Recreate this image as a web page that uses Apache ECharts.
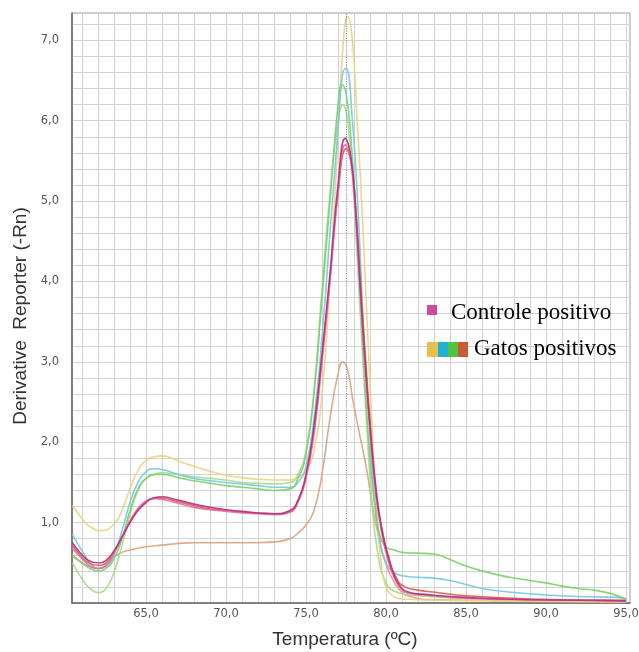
<!DOCTYPE html>
<html>
<head>
<meta charset="utf-8">
<script src="https://cdn.jsdelivr.net/npm/echarts@6/dist/echarts.min.js"></script>
<style>html,body{margin:0;padding:0;background:#fff}#c{width:639px;height:652px}</style>
</head>
<body>
<div id="c"></div>
<script>
// ---- data (temperature °C, derivative reporter -Rn) ----
const xTickLabels = [65, 70, 75, 80, 85, 90, 95];
const yTickLabels = [1, 2, 3, 4, 5, 6, 7];
const tmLine = 77.5;

const controle1 = [[60.4,0.75],[61,0.6],[61.5,0.52],[62,0.5],[62.5,0.53],[63,0.65],[63.5,0.82],[64,1.0],[64.5,1.15],[65,1.25],[65.5,1.31],[66,1.32],[67,1.28],[68,1.23],[69,1.19],[70,1.16],[71,1.14],[72,1.12],[73,1.11],[74,1.15],[74.5,1.28],[75,1.6],[75.5,2.2],[76,3.1],[76.5,4.1],[77,5.2],[77.45,5.78],[77.8,5.55],[78.1,4.9],[78.4,3.9],[78.7,3.0],[79,2.2],[79.4,1.35],[79.8,0.85],[80.1,0.6],[80.5,0.35],[81,0.18],[81.5,0.13],[82.3,0.11],[85,0.07],[89,0.04],[95,0.03]];
const controle2 = [[60.4,0.68],[61,0.55],[61.5,0.46],[62,0.43],[62.5,0.47],[63,0.62],[63.5,0.82],[64,1.02],[64.5,1.18],[65,1.27],[65.5,1.3],[66,1.29],[67,1.24],[68,1.19],[69,1.16],[70,1.14],[71,1.12],[72,1.11],[73,1.1],[74,1.13],[74.5,1.25],[75,1.55],[75.5,2.1],[76,3.0],[76.5,4.0],[77,5.1],[77.45,5.7],[77.8,5.5],[78.1,4.85],[78.4,3.85],[78.7,2.95],[79,2.15],[79.4,1.3],[79.8,0.8],[80.1,0.55],[80.5,0.32],[81,0.16],[81.5,0.12],[82.3,0.1],[85,0.06],[89,0.04],[95,0.03]];
const gatoYellow = [[60.4,1.21],[61,1.05],[61.5,0.95],[62.2,0.9],[63,0.98],[63.5,1.15],[64,1.42],[64.5,1.65],[65,1.77],[65.5,1.82],[66,1.83],[66.5,1.81],[67,1.77],[68,1.7],[69,1.64],[70,1.59],[71,1.56],[72,1.54],[73,1.53],[74,1.53],[74.5,1.56],[75,1.65],[75.5,1.9],[76,2.6],[76.5,4.0],[77,5.8],[77.3,6.9],[77.6,7.3],[77.9,7.0],[78.2,6.0],[78.5,4.9],[78.8,3.6],[79.1,2.3],[79.4,1.2],[79.7,0.5],[80,0.2],[80.5,0.08],[81,0.05],[85,0.03],[90,0.02],[95,0.01]];
const gatoCyan = [[60.4,0.85],[61,0.65],[61.5,0.5],[62,0.43],[62.5,0.45],[63,0.6],[63.5,0.9],[64,1.25],[64.5,1.5],[65,1.63],[65.5,1.67],[66,1.66],[67,1.6],[68,1.55],[69,1.52],[70,1.5],[71,1.48],[72,1.46],[73,1.44],[74,1.44],[74.5,1.5],[75,1.7],[75.5,2.3],[76,3.3],[76.5,4.6],[77,5.9],[77.3,6.6],[77.5,6.65],[77.9,6.0],[78.25,4.9],[78.6,3.4],[78.9,2.4],[79.2,1.5],[79.6,0.8],[80,0.5],[80.5,0.38],[81,0.34],[82,0.32],[83,0.31],[84,0.28],[85,0.23],[86,0.18],[88,0.13],[90,0.1],[92,0.08],[94.4,0.07],[95,0.05]];
const gatoGreen = [[60.4,0.6],[61,0.5],[61.5,0.43],[62,0.4],[62.5,0.43],[63,0.55],[63.5,0.8],[64,1.15],[64.5,1.42],[65,1.55],[65.5,1.6],[66,1.6],[67,1.56],[68,1.52],[69,1.49],[70,1.46],[71,1.44],[72,1.42],[73,1.4],[74,1.42],[74.5,1.55],[75,1.85],[75.5,2.6],[76,3.8],[76.5,5.0],[77,6.2],[77.25,6.45],[77.5,6.35],[77.8,5.8],[78.1,4.9],[78.4,3.8],[78.7,2.7],[79,1.8],[79.3,1.2],[79.6,0.85],[80,0.7],[80.5,0.66],[81,0.63],[82,0.62],[83,0.61],[84,0.54],[85,0.46],[86,0.4],[87,0.35],[88,0.31],[89,0.28],[90,0.25],[91,0.21],[92,0.18],[93,0.16],[94,0.12],[95,0.05]];
const gatoLightGreen = [[60.4,0.5],[61,0.3],[61.5,0.18],[62,0.13],[62.5,0.18],[63,0.38],[63.5,0.72],[64,1.1],[64.5,1.4],[65,1.55],[65.5,1.6],[66,1.62],[67,1.6],[68,1.57],[69,1.55],[70,1.53],[71,1.5],[72,1.49],[73,1.48],[74,1.5],[74.5,1.6],[75,1.9],[75.5,2.65],[76,3.9],[76.5,5.1],[77,6.0],[77.3,6.2],[77.6,6.0],[77.9,5.3],[78.2,4.3],[78.5,3.2],[78.8,2.2],[79.1,1.3],[79.5,0.6],[80,0.25],[80.5,0.15],[81.5,0.1],[85,0.06],[90,0.04],[95,0.03]];
const gatoTan = [[60.4,0.58],[61,0.5],[61.5,0.45],[62,0.43],[62.5,0.47],[63,0.57],[63.5,0.63],[64,0.66],[65,0.7],[66,0.72],[67,0.74],[68,0.75],[69,0.75],[70,0.75],[71,0.75],[72,0.75],[73,0.76],[74,0.8],[74.5,0.87],[75,0.97],[75.5,1.15],[76,1.6],[76.5,2.3],[77,2.85],[77.3,3.0],[77.6,2.9],[77.95,2.5],[78.4,2.05],[78.8,1.65],[79.2,1.15],[79.6,0.78],[80,0.48],[80.4,0.3],[80.9,0.15],[81.5,0.08],[83,0.04],[95,0.02]];
const gatoRed = [[60.4,0.72],[61,0.57],[61.5,0.49],[62,0.47],[62.5,0.5],[63,0.63],[63.5,0.82],[64,1.01],[64.5,1.16],[65,1.26],[65.5,1.3],[66,1.3],[67,1.26],[68,1.21],[69,1.17],[70,1.15],[71,1.13],[72,1.12],[73,1.11],[74,1.14],[74.5,1.27],[75,1.58],[75.5,2.15],[76,3.05],[76.5,4.05],[77,5.1],[77.5,5.65],[77.85,5.45],[78.15,4.8],[78.45,3.85],[78.75,2.95],[79.05,2.15],[79.45,1.3],[79.85,0.82],[80.2,0.55],[80.6,0.33],[81.1,0.21],[82,0.16],[83.2,0.13],[85,0.09],[89,0.05],[94,0.03],[95,0.02]];

const seriesDefs = [
  {name:'Gatos positivos', data: gatoTan, color:'#dba27c'},
  {name:'Gatos positivos', data: gatoLightGreen, color:'#a3dc8a'},
  {name:'Gatos positivos', data: gatoYellow, color:'#ecd27e'},
  {name:'Gatos positivos', data: gatoCyan, color:'#74c6e2'},
  {name:'Gatos positivos', data: gatoGreen, color:'#7ccf68'},
  {name:'Gatos positivos', data: gatoRed, color:'#d4604a'},
  {name:'Controle positivo', data: controle2, color:'#e56aa8'},
  {name:'Controle positivo', data: controle1, color:'#b8307f'}
];

const fmt = v => v.toFixed(1).replace('.', ',');
const xMinor = []; for (let t = 61; t <= 95; t++) xMinor.push(t);
const yMinor = []; for (let k = 1; k <= 36; k++) yMinor.push(+(k*0.2).toFixed(1));

const chart = echarts.init(document.getElementById('c'), null, {renderer:'canvas'});
const series = seriesDefs.map((s, i) => ({
  type:'line', name:s.name, data:s.data, showSymbol:false, smooth:0.5,
  lineStyle:{color:s.color, width:1.6, opacity:0.9}, itemStyle:{color:s.color}, z:2+i, silent:true,
  markLine: i === 0 ? {silent:true, symbol:'none', label:{show:false},
    lineStyle:{color:'#8a98b8', type:'dotted', width:1.2}, data:[{xAxis: tmLine}]} : undefined
}));

chart.setOption({
  animation:false,
  backgroundColor:'#fff',
  grid:{left:72, right:9, top:13, bottom:49, show:true, borderColor:'#9a9a9a', borderWidth:1, outerBoundsMode:'none', containLabel:false},
  xAxis:{
    type:'value', min:60.375, max:95.25,
    name:'Temperatura (ºC)', nameLocation:'middle', nameGap:27,
    nameTextStyle:{fontFamily:'Liberation Sans', fontSize:19, color:'#333', padding:[0,12,0,0]},
    axisLine:{show:true, lineStyle:{color:'#666', width:1.5}},
    axisTick:{show:false, customValues:xMinor},
    axisLabel:{customValues:xTickLabels, formatter:fmt, fontFamily:'DejaVu Sans', fontSize:11.5, color:'#555', margin:5},
    splitLine:{show:true, lineStyle:{color:'#d2d2d2', width:1}}
  },
  yAxis:{
    type:'value', min:0, max:7.34,
    name:'Derivative  Reporter (-Rn)', nameLocation:'middle', nameGap:40,
    nameTextStyle:{fontFamily:'Liberation Sans', fontSize:19, color:'#333', padding:[0,16,0,0]},
    axisLine:{show:true, lineStyle:{color:'#666', width:1.5}},
    axisTick:{show:false, customValues:yMinor},
    axisLabel:{customValues:yTickLabels, formatter:fmt, fontFamily:'DejaVu Sans', fontSize:11.5, color:'#555', margin:13},
    splitLine:{show:true, lineStyle:{color:'#d2d2d2', width:1}}
  },
  series: series,
  graphic:[
    {type:'rect', z:100, left:427, top:305, shape:{width:10, height:10}, style:{fill:'#cc4c9c'}},
    {type:'text', z:100, left:451, top:301, style:{text:'Controle positivo', font:'23px "Liberation Serif"', fill:'#000'}},
    {type:'rect', z:100, left:427, top:342, shape:{width:11, height:15}, style:{fill:'#e8c050'}},
    {type:'rect', z:100, left:438, top:342, shape:{width:10, height:15}, style:{fill:'#1fb0d2'}},
    {type:'rect', z:100, left:448, top:342, shape:{width:10, height:15}, style:{fill:'#4fc43c'}},
    {type:'rect', z:100, left:458, top:342, shape:{width:10, height:15}, style:{fill:'#cc5a38'}},
    {type:'text', z:100, left:474, top:337, style:{text:'Gatos positivos', font:'23px "Liberation Serif"', fill:'#000'}}
  ]
});
</script>
</body>
</html>
